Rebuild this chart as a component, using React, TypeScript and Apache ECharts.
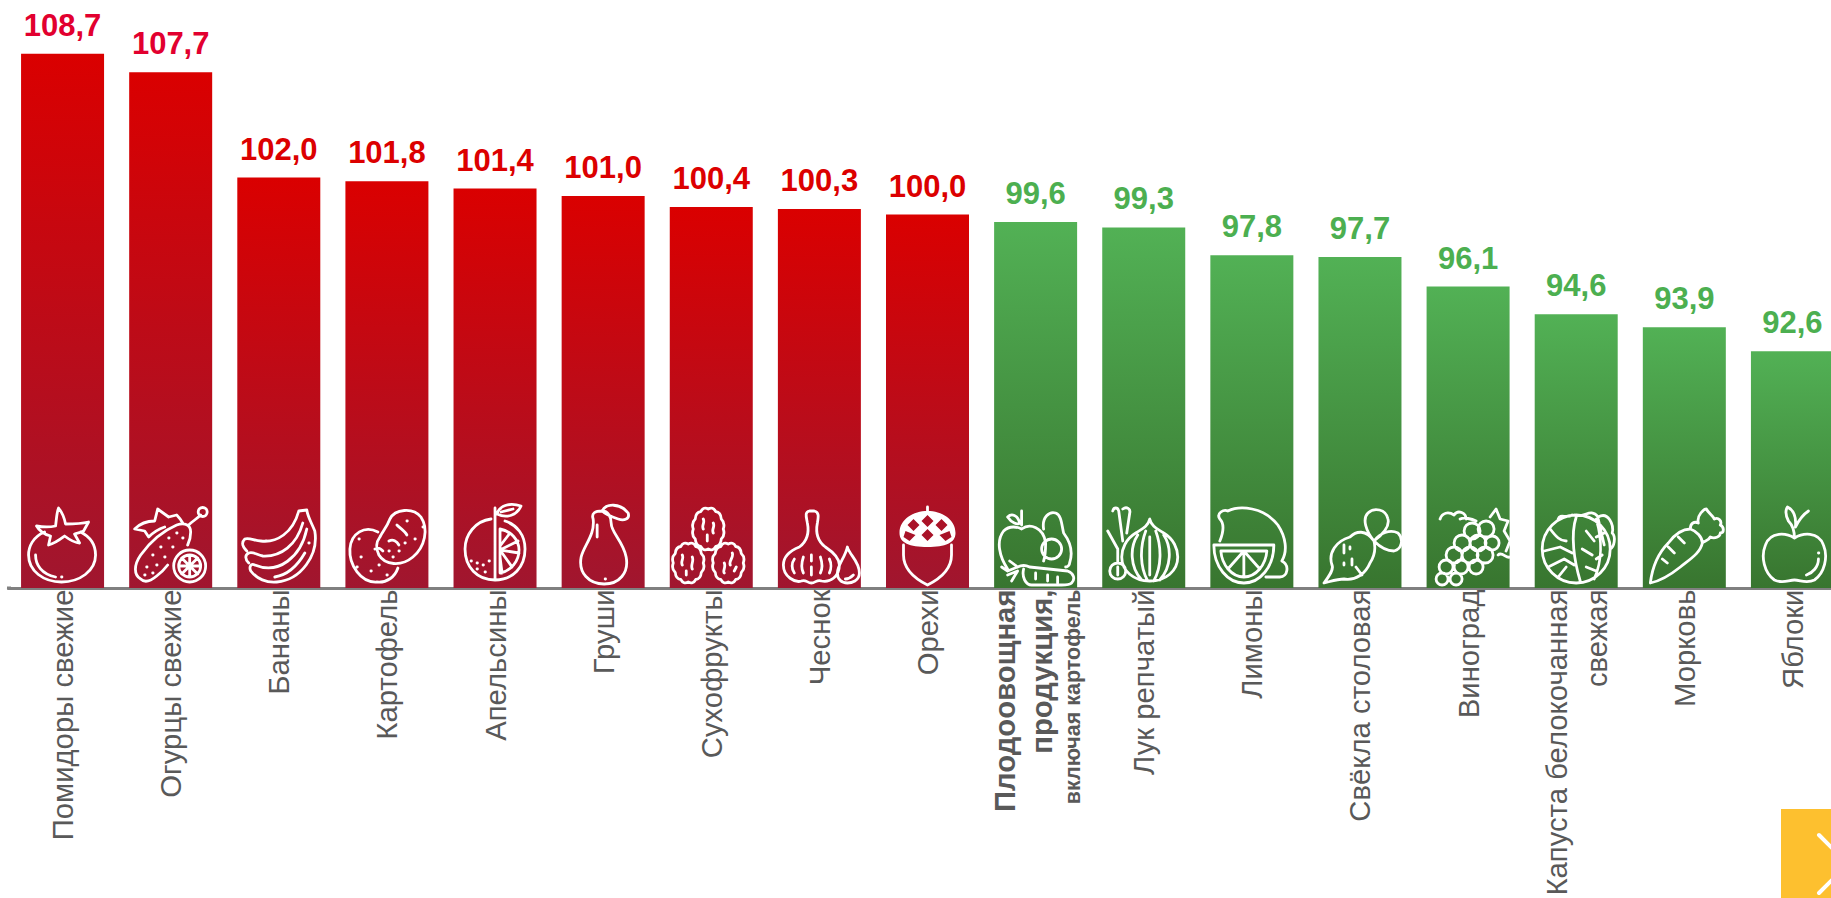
import React, { useEffect, useRef } from "react";
import * as echarts from "echarts";

const categories = [
  "Помидоры свежие",
  "Огурцы свежие",
  "Бананы",
  "Картофель",
  "Апельсины",
  "Груши",
  "Сухофрукты",
  "Чеснок",
  "Орехи",
  "{b|Плодоовощная}\n{b|продукция,}\n{s|включая картофель}",
  "Лук репчатый",
  "Лимоны",
  "Свёкла столовая",
  "Виноград",
  "Капуста белокочанная\nсвежая",
  "Морковь",
  "Яблоки",
];
const values = [108.7, 107.7, 102.0, 101.8, 101.4, 101.0, 100.4, 100.3, 100.0, 99.6, 99.3, 97.8, 97.7, 96.1, 94.6, 93.9, 92.6];
const iconNames = ["tomato", "cucumber", "banana", "potato", "orange", "pear", "dried", "garlic", "acorn", "mix", "onion", "lemon", "beet", "grape", "cabbage", "carrot", "apple"];
const Y_MIN = 79.8;
const Y_MAX = 110;

const c = (x: number, y: number, r: number) => `M${x - r} ${y}a${r} ${r} 0 1 0 ${2 * r} 0a${r} ${r} 0 1 0 ${-2 * r} 0`;
const dots = (pts: number[][]) => pts.map(([x, y]) => `M${x} ${y}h0.4`).join("");
const scallop = (cx: number, cy: number, rx: number, ry: number, n: number) => {
  let d = "";
  for (let i = 0; i < n; i++) {
    const a0 = (i / n) * Math.PI * 2;
    const a1 = ((i + 1) / n) * Math.PI * 2;
    const am = (a0 + a1) / 2;
    const p0 = [cx + rx * Math.cos(a0), cy + ry * Math.sin(a0)];
    const p1 = [cx + rx * Math.cos(a1), cy + ry * Math.sin(a1)];
    const pm = [cx + rx * 1.18 * Math.cos(am), cy + ry * 1.18 * Math.sin(am)];
    d += `${i === 0 ? `M${p0[0].toFixed(1)} ${p0[1].toFixed(1)}` : ""}Q${pm[0].toFixed(1)} ${pm[1].toFixed(1)} ${p1[0].toFixed(1)} ${p1[1].toFixed(1)}`;
  }
  return d + "Z";
};

const ICON_STROKE: Record<string, string> = {
  tomato:
    "M22 27C10 32 6 42 6 50C6 66 21 77 39 77C57 77 73 66 73 50C73 40 68 32 58 27" +
    "M36 3C40 8 42 14 43 19C50 19 58 19 66 17L61 26C58 28 55 28 52 29L57 38C52 38 46 34 42 31C38 34 33 38 26 40L28 31C24 30 18 28 14 21C20 22 28 22 33 21C34 14 34 8 36 3Z" +
    "M13 50C13 60 19 69 33 72" + dots([[39, 72]]),
  cucumber:
    "M10 74C3 70 3 60 10 50C20 36 32 26 46 20C54 17 60 20 60 27C60 32 59 36 57 40" +
    "M10 74C14 78 20 76 26 71C30 68 34 64 37 60" +
    "M34 22C28 24 22 28 18 32L14 26L4 24C8 20 14 16 24 16L27 4L38 12L46 10C48 12 50 14 52 18" +
    "M58 20C62 16 66 14 70 10" + c(72, 7, 4.5) +
    c(59, 61, 16) + c(59, 61, 11) + "M59 50V72M48 61H70M51 53L67 69M67 53L51 69" +
    dots([[46, 28], [38, 33], [52, 33], [30, 42], [42, 42], [22, 50], [34, 52], [16, 62], [26, 60], [14, 70], [22, 68]]),
  banana:
    "M60 6L68 5C69 12 72 16 76 26C80 50 62 75 38 77C28 78 18 74 12 66C10 62 12 58 16 60" +
    "M16 60C40 70 62 52 68 24" +
    "M10 58C6 54 6 50 10 48C14 46 18 50 24 51C42 52 58 40 64 18" +
    "M8 46C4 42 2 38 6 34C10 32 16 36 22 36C38 38 54 28 60 6" +
    "M36 72C48 70 58 62 66 48" + dots([[27, 36], [70, 38]]),
  potato:
    "M43 14C48 4 66 2 74 12C82 24 78 42 66 52C54 62 38 60 32 50C28 42 30 36 33 32C36 26 40 22 43 14Z" +
    "M31 27C18 20 4 28 3 44C2 60 14 78 30 77C40 78 48 72 51 63" +
    "M42 36C46 34 50 36 52 40M50 20C54 24 58 26 60 30" + "M28 44C32 42 34 44 36 46" +
    dots([[60, 16], [68, 34], [42, 46], [52, 46], [46, 52], [58, 38], [12, 34], [14, 52], [32, 60], [24, 66], [40, 70], [76, 22], [10, 62]]),
  orange:
    "M36 14C20 16 10 30 10 44C10 62 22 75 40 75C58 75 70 62 70 44C70 30 62 20 50 16" +
    "M40 3V75M45 24C56 26 64 35 64 45C64 56 56 66 45 68L45 24M45 45L63 36M45 45L64 48M45 45L57 62M45 41L55 28M45 52L47 68" +
    "M42 9C44 1 54 -3 66 1C62 10 52 14 42 9Z M46 7L58 4" +
    dots([[16, 56], [22, 58], [28, 60], [22, 64], [30, 67], [34, 56]]),
  pear:
    "M30 14C28 8 32 6 39 6C45 6 48 12 48 18C48 28 60 36 63 52C66 68 56 79 41 79C26 79 15 68 18 52C21 40 32 30 30 14Z" +
    "M34 20V32M39 6C43 -2 57 -2 65 8C67 14 61 16 55 14C49 12 43 10 39 6Z" + dots([[42, 74]]),
  dried:
    scallop(37, 24, 15, 20, 12) + scallop(17, 58, 15, 19, 12) + scallop(57, 58, 15, 19, 12) +
    "M32 14C34 18 30 20 32 24M42 18C44 22 40 24 42 28M36 30V36" +
    "M11 50C13 54 9 56 11 60M21 52C23 56 19 60 21 64M15 66V70" +
    "M61 48C63 52 57 56 59 60M53 58C55 62 51 66 53 68M65 62L63 66",
  garlic:
    "M30 6C25 7 27 12 28 18C30 28 28 36 20 42C10 46 4 52 4 60C4 72 16 78 22 76C26 74 28 78 32 78C36 78 38 74 42 76C50 78 60 72 60 60C60 52 52 46 46 42C38 36 36 28 38 18C39 12 40 7 35 6Z" +
    "M15 54C12 58 12 64 15 68M24 52C22 58 22 64 24 68M32 50V56M32 62V70M41 52C43 58 43 64 41 68M50 54C52 58 52 64 50 68" +
    "M68 42C70 50 80 56 80 68C80 76 72 78 68 78C62 78 58 74 58 68C58 60 66 52 68 42Z M66 74C70 74 72 72 74 70",
  acorn:
    "M16 40V50C16 64 28 74 40 80C52 74 64 64 64 50V40" + "M40 2V8",
  mix:
    "M12 12C16 8 22 10 24 18C22 20 16 18 12 12ZM26 6V20" +
    "M12 64C4 52 0 36 8 26C14 20 22 22 26 24C34 18 48 22 50 38C50 44 50 50 48 56" +
    "M48 24C46 12 54 6 60 8C66 10 66 20 68 28C74 36 78 46 74 58C74 60 72 62 70 62" +
    c(56, 44, 10) +
    "M22 62C26 60 30 60 34 62L72 66C78 68 80 74 76 78C74 80 70 80 66 80H36C30 80 26 72 28 64" +
    "M14 56L22 62L12 66L6 62M12 70L22 66L16 76M40 68V74M52 70V76M62 72V78",
  onion:
    "M46 14C44 22 38 24 32 28C22 34 18 44 18 52C18 66 30 76 46 76C62 76 74 66 74 52C74 44 70 34 60 28C54 24 48 22 46 14Z" +
    "M34 30C26 42 26 62 38 75M42 26C36 42 36 62 44 76M46 32V70M52 26C58 42 58 62 50 76M60 30C68 42 68 62 56 75" +
    "M4 26L14 44V58M9 6C10 2 14 2 15 6L19 36M19 4C23 1 27 4 26 8L23 28" +
    c(14, 66, 8) + "M14 62V70",
  lemon:
    "M8 14C4 8 12 4 16 6C28 0 52 2 66 20C74 32 76 46 70 56C78 60 76 72 68 72H54" +
    "M8 14C12 18 12 26 8 36" +
    "M2 40H62C62 62 48 78 32 78C16 78 2 62 2 40Z" +
    "M9 46C10 60 20 72 32 72C44 72 54 60 55 46ZM32 46V72M32 46L16 64M32 46L48 64",
  beet:
    "M54 36C46 24 36 26 30 32C16 36 8 48 12 60C14 64 10 70 4 78C12 76 18 74 24 74C36 76 46 68 50 58C54 52 56 44 54 36Z" +
    "M54 36C46 26 42 14 48 8C54 2 66 4 68 14C70 22 62 30 54 36ZM54 36C60 28 70 24 78 28C84 34 82 44 74 46C66 46 60 42 54 36Z" +
    "M24 40V48M30 42V44M32 54V60M24 58V60M36 62L42 70",
  grape:
    c(44, 26, 8) + c(58, 24, 8) + c(34, 38, 8) + c(50, 38, 8) + c(64, 38, 7) + c(26, 50, 8) + c(42, 50, 8) + c(57, 50, 8) + c(18, 62, 7) + c(33, 62, 7) + c(48, 62, 7) + c(14, 74, 6) + c(28, 74, 6) +
    "M12 14C14 8 20 6 26 10C30 4 38 8 38 14M32 14C36 12 44 14 48 16" + "M62 12L68 4L72 14L80 16L76 26L82 36L78 46" + "M70 50C74 46 78 54 82 52",
  cabbage:
    c(40, 44, 34) +
    "M38 10C48 14 54 2 62 12C72 6 78 20 76 28C80 32 78 42 74 44" +
    "M36 10C30 14 24 8 22 14M40 12C34 30 38 56 44 76M60 14C66 34 66 56 58 74M62 14L68 40M14 24C20 32 24 36 30 36M8 46L24 42L36 48M12 62L28 54L38 60M22 72L30 62M50 26L58 36M46 44L56 50M50 62L60 66M68 28L60 32M66 50L60 54",
  carrot:
    "M6 78C8 62 14 48 24 38C30 30 38 24 46 24C52 26 58 32 58 38C56 48 46 54 36 62C26 70 16 76 6 78Z" +
    "M46 24C46 18 50 16 54 18C52 10 60 4 62 4C64 8 68 10 70 14C74 12 78 16 76 20C80 22 80 28 76 28C76 32 70 34 66 32C64 36 60 36 58 38" +
    "M34 32L40 38M24 42L30 48M18 54L23 58",
  apple:
    "M42 33C34 28 18 26 13 40C8 52 12 68 22 75C30 79 36 75 42 75C48 75 54 79 62 75C72 68 76 52 71 40C66 26 50 28 42 33Z" +
    "M42 33C42 26 40 20 36 16C33 10 33 5 35 2C41 5 44 12 43 22C46 16 50 10 56 6" +
    "M66 54C66 62 60 68 54 70" + dots([[66, 48]]),
};
const ICON_FILL: Record<string, string> = {
  acorn:
    "M12 28C12 14 26 6 40 6C54 6 68 14 68 28C68 38 58 42 40 42C22 42 12 38 12 28Z" +
    "M40 10L34 16L40 22L46 16Z M26 14L20 20L26 26L32 20Z M54 14L48 20L54 26L60 20Z M40 24L34 30L40 36L46 30Z M18 26L16 32L22 36L28 30Z M62 26L52 30L58 36L64 32Z",
};

Object.keys(ICON_STROKE).forEach((k) => {
  echarts.graphic.registerShape("ic_" + k, echarts.graphic.extendPath(ICON_STROKE[k], {}));
});
Object.keys(ICON_FILL).forEach((k) => {
  echarts.graphic.registerShape("icf_" + k, echarts.graphic.extendPath(ICON_FILL[k], {}));
});

const grad = (top: string, bottom: string) => ({
  type: "linear" as const,
  x: 0,
  y: 0,
  x2: 0,
  y2: 1,
  colorStops: [
    { offset: 0, color: top },
    { offset: 1, color: bottom },
  ],
});

export default function App() {
  const ref = useRef<HTMLDivElement>(null);
  useEffect(() => {
    const chart = echarts.init(ref.current!, null, { renderer: "svg" });
    chart.setOption({
      animation: false,
      backgroundColor: "#ffffff",
      textStyle: { fontFamily: "Liberation Sans" },
      grid: { left: 8.5, top: 29.6, width: 1838, height: 558.4, containLabel: false, outerBoundsMode: "none" },
      xAxis: {
        type: "category",
        data: categories,
        axisLine: { show: true, lineStyle: { color: "#808080", width: 3 } },
        axisTick: { show: false },
        axisLabel: {
          interval: 0,
          rotate: 90,
          margin: 1.5,
          color: "#595959",
          fontSize: 29.3,
          fontFamily: "Liberation Sans",
          lineHeight: 40,
          align: "right",
          hideOverlap: false,
          rich: {
            b: { fontSize: 29.3, fontWeight: "bold", color: "#595959", lineHeight: 37, align: "right" },
            s: { fontSize: 21.5, fontWeight: "bold", color: "#595959", lineHeight: 26, align: "right" },
          },
        },
      },
      yAxis: { type: "value", min: Y_MIN, max: Y_MAX, show: false },
      series: [
        {
          type: "bar",
          barWidth: 83,
          data: values.map((v, i) => ({
            value: v,
            itemStyle: { color: v >= 100 ? grad("#da0000", "#a0162f") : grad("#52b155", "#38752f") },
            label: { color: i < 2 ? "#e2002f" : v >= 100 ? "#dc0000" : "#4caf50" },
          })),
          label: {
            show: true,
            position: "top",
            distance: 13,
            fontSize: 31,
            fontWeight: "bold",
            fontFamily: "Liberation Sans",
            formatter: (p: any) => p.value.toFixed(1).replace(".", ","),
          },
        },
        {
          type: "custom",
          clip: false,
          silent: true,
          z: 5,
          data: values.map((_, i) => [i, Y_MIN]),
          encode: { x: 0, y: 1 },
          renderItem: (params: any, api: any) => {
            const p = api.coord([api.value(0), Y_MIN]);
            const name = iconNames[params.dataIndex];
            const x = p[0] - 40;
            const y = p[1] - 83;
            const children: any[] = [];
            if (ICON_FILL[name]) {
              children.push({ type: "icf_" + name, x, y, style: { fill: "#ffffff", stroke: "none" } });
            }
            children.push({
              type: "ic_" + name,
              x,
              y,
              style: { fill: "none", stroke: "#ffffff", lineWidth: 2.8, lineCap: "round", lineJoin: "round" },
            });
            return { type: "group", children };
          },
        },
      ],
      graphic: [
        { type: "rect", shape: { x: 7, y: 586.5, width: 4, height: 3 }, style: { fill: "#808080" } },
        { type: "rect", shape: { x: 1781, y: 809, width: 50, height: 89 }, style: { fill: "#fdc02f" } },
        {
          type: "polyline",
          shape: { points: [[1819, 835], [1848, 864], [1819, 893]] },
          style: { fill: "none", stroke: "#ffffff", lineWidth: 4, lineCap: "round" },
        },
      ],
    });
    return () => chart.dispose();
  }, []);
  return <div ref={ref} style={{ position: "fixed", left: 0, top: 0, width: 1831, height: 898, overflow: "hidden" }} />;
}
